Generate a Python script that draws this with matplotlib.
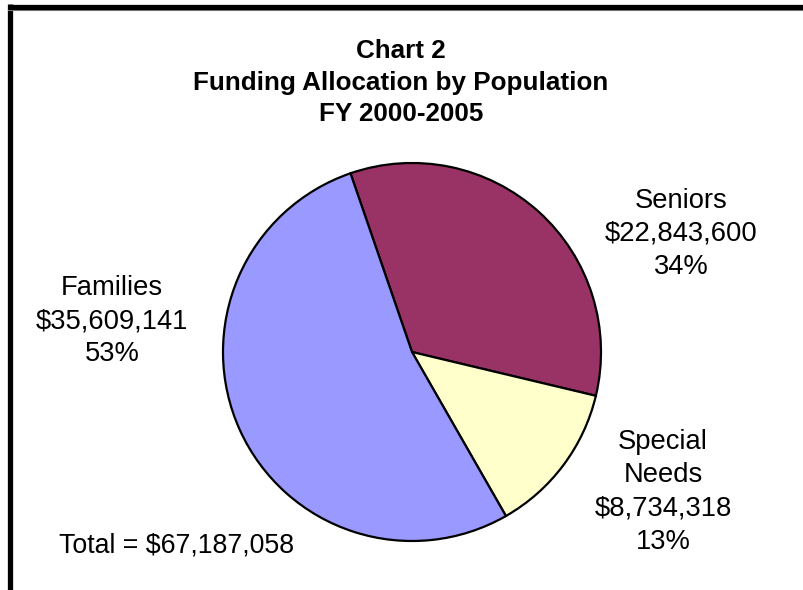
import matplotlib
matplotlib.use('Agg')
import matplotlib.pyplot as plt
from matplotlib.lines import Line2D

# Data
categories = ['Seniors', 'Special\nNeeds', 'Families']
amounts = [22843600, 8734318, 35609141]
colors = ['#993366', '#FFFFCC', '#9999FF']
title_lines = ['Chart 2', 'Funding Allocation by Population', 'FY 2000-2005']
total_reported = 67187058  # as printed on the chart

share = [a / sum(amounts) for a in amounts]

plt.rcParams['font.family'] = ['Liberation Sans', 'DejaVu Sans']

W, H = 804, 590
fig = plt.figure(figsize=(W / 100, H / 100), dpi=100)
fig.patch.set_facecolor('white')

# pie placement (pixels)
cx, cy, r = 412, 352, 189
ax = fig.add_axes([(cx - r) / W, (H - cy - r) / H, 2 * r / W, 2 * r / H])
ax.pie(amounts, colors=colors, startangle=109, counterclock=False, radius=1,
       wedgeprops=dict(edgecolor='black', linewidth=1.6))
ax.set_xlim(-1, 1)
ax.set_ylim(-1, 1)
ax.set_aspect('equal')
ax.axis('off')


def px(x, y):
    return x / W, 1 - y / H


# labels
label_pos = [(681, 234), (663, 492), (112, 321)]
for name, val, s, (x, y) in zip(categories, amounts, share, label_pos):
    txt = f"{name}\n${val:,.0f}\n{round(s * 100):.0f}%"
    fig.text(*px(x, y), txt, ha='center', va='center', fontsize=19.7,
             linespacing=1.37)

# title
for i, line in enumerate(title_lines):
    fig.text(*px(401, 51 + i * 31.7), line, ha='center', va='center',
             fontsize=18.7, fontweight='bold')

fig.text(*px(177, 545), f"Total = ${total_reported:,.0f}", ha='center',
         va='center', fontsize=19.3)

# border (partial frame)
fig.add_artist(Line2D([10.5 / W, 10.5 / W], [0, 1 - 4 / H], color='black',
                      linewidth=3.8, transform=fig.transFigure,
                      solid_capstyle='butt'))
fig.add_artist(Line2D([8 / W, 1], [1 - 10 / H, 1 - 10 / H], color='#888888',
                      linewidth=0.8, transform=fig.transFigure))
fig.add_artist(Line2D([8 / W, 1], [1 - 6.5 / H, 1 - 6.5 / H], color='black',
                      linewidth=3.8, transform=fig.transFigure,
                      solid_capstyle='butt'))

plt.savefig('out.png', dpi=100)
